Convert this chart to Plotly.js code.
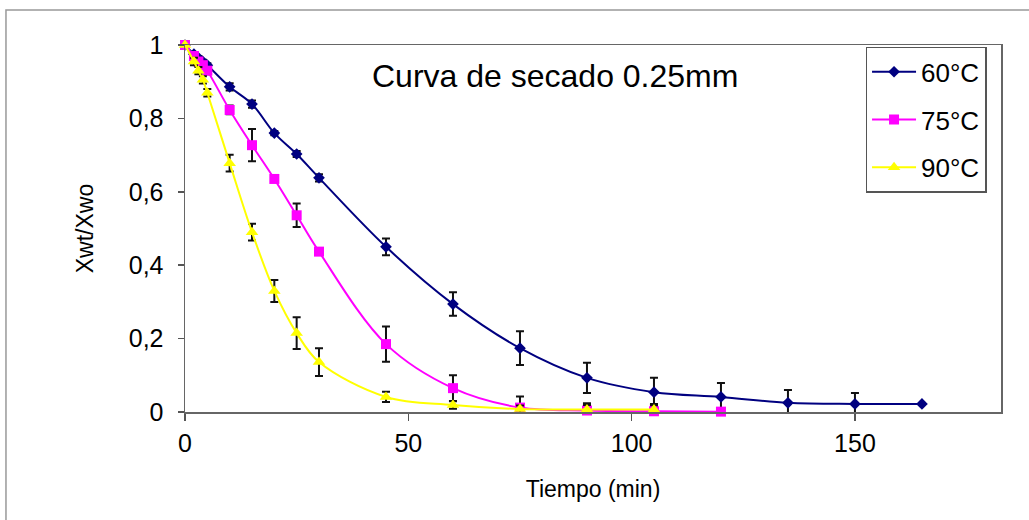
<!DOCTYPE html>
<html>
<head>
<meta charset="utf-8">
<script src="https://cdn.plot.ly/plotly-3.0.1.min.js"></script>
<style>html,body{margin:0;padding:0;background:#fff;}#chart{width:1029px;height:520px;}</style>
</head>
<body>
<div id="chart"></div>
<script>
// Data
const seriesNames = ["60°C", "75°C", "90°C"];
const seriesColors = ["#000080", "#FF00FF", "#FFFF00"];
const seriesSymbols = ["diamond", "square", "triangle-up"];

const t60 = [0, 2, 3, 4, 5, 10, 15, 20, 25, 30, 45, 60, 75, 90, 105, 120, 135, 150, 165];
const y60 = [1.0, 0.975, 0.965, 0.955, 0.945, 0.886, 0.839, 0.76, 0.703, 0.638, 0.45, 0.294, 0.174, 0.093, 0.054, 0.041, 0.025, 0.022, 0.022];
const e60 = [0, 0.005, 0.005, 0.005, 0.005, 0.01, 0.01, 0.006, 0.008, 0.01, 0.023, 0.032, 0.046, 0.041, 0.039, 0.038, 0.035, 0.03, 0];

const t75 = [0, 2, 3, 4, 5, 10, 15, 20, 25, 30, 45, 60, 75, 90, 105, 120];
const y75 = [1.0, 0.97, 0.955, 0.945, 0.93, 0.823, 0.727, 0.635, 0.536, 0.437, 0.185, 0.065, 0.012, 0.004, 0.002, 0.001];
const e75 = [0, 0.01, 0.01, 0.01, 0.01, 0.012, 0.044, 0.006, 0.032, 0.008, 0.048, 0.035, 0.03, 0.02, 0.02, 0];

const t90 = [0, 2, 3, 4, 5, 10, 15, 20, 25, 30, 45, 60, 75, 90, 105];
const y90 = [1.0, 0.955, 0.93, 0.905, 0.87, 0.678, 0.49, 0.33, 0.215, 0.136, 0.041, 0.019, 0.008, 0.007, 0.007];
const e90 = [0, 0.01, 0.01, 0.01, 0.01, 0.023, 0.023, 0.03, 0.043, 0.038, 0.014, 0.01, 0.01, 0.012, 0.012];

const xTickVals = [0, 50, 100, 150];
const yTickVals = [0, 0.2, 0.4, 0.6, 0.8, 1];
const yTickText = ["0", "0,2", "0,4", "0,6", "0,8", "1"];

const chartTitle = "Curva de secado 0.25mm";
const xTitle = "Tiempo (min)";
const yTitle = "Xwt/Xwo";

const xs = [t60, t75, t90], ys = [y60, y75, y90], es = [e60, e75, e90];
const markerSizes = [9, 10, 11];

const traces = xs.map((x, i) => ({
  type: "scatter",
  mode: "lines+markers",
  name: seriesNames[i],
  legendgroup: "g" + i,
  x: x,
  y: ys[i],
  cliponaxis: false,
  line: {color: seriesColors[i], width: 2, shape: "spline", smoothing: 1},
  marker: {color: seriesColors[i], symbol: seriesSymbols[i], size: markerSizes[i]},
  error_y: {type: "data", array: es[i], visible: true, color: "#111", thickness: 2, width: 4}
}));

const font = "Liberation Sans, Arial, sans-serif";
const layout = {
  width: 1029, height: 520,
  margin: {l: 185, r: 28, t: 45, b: 108},
  paper_bgcolor: "#fff", plot_bgcolor: "#fff",
  font: {family: font, size: 20, color: "#000"},
  showlegend: true,
  legend: {
    x: 0.834, y: 0.995, xanchor: "left", yanchor: "top",
    bordercolor: "#555", borderwidth: 1.5, bgcolor: "#fff",
    font: {family: font, size: 26, color: "#000"},
    traceorder: "grouped", tracegroupgap: 11, itemwidth: 44
  },
  xaxis: {
    range: [0, 182.7], tickvals: xTickVals, ticks: "outside", ticklen: 7, tickwidth: 1.5,
    tickcolor: "#555", showline: true, linecolor: "#666", linewidth: 1.5, mirror: true,
    showgrid: false, zeroline: false, tickfont: {family: font, size: 25},
    ticklabelstandoff: 1,
    title: {text: xTitle, font: {family: font, size: 23}, standoff: 25}
  },
  yaxis: {
    range: [0, 1], tickvals: yTickVals, ticktext: yTickText, ticks: "outside", ticklen: 6, tickwidth: 1.5,
    tickcolor: "#555", showline: true, linecolor: "#666", linewidth: 1.5, mirror: true,
    showgrid: false, zeroline: false, tickfont: {family: font, size: 25},
    ticklabelstandoff: 9,
    title: {text: yTitle, font: {family: font, size: 23}, standoff: 28}
  },
  annotations: [{
    text: chartTitle, xref: "paper", yref: "paper", x: 0.453, y: 0.915,
    xanchor: "center", yanchor: "middle", showarrow: false,
    font: {family: font, size: 32, color: "#000"}
  }],
  shapes: [{
    type: "rect", xref: "paper", yref: "paper",
    x0: -0.2194, x1: 1.2, y0: -0.6, y1: 1.0954,
    line: {color: "#999", width: 1.5}, fillcolor: "rgba(0,0,0,0)", layer: "below"
  }]
};

Plotly.newPlot("chart", traces, layout, {displayModeBar: false, staticPlot: true});
</script>
</body>
</html>
